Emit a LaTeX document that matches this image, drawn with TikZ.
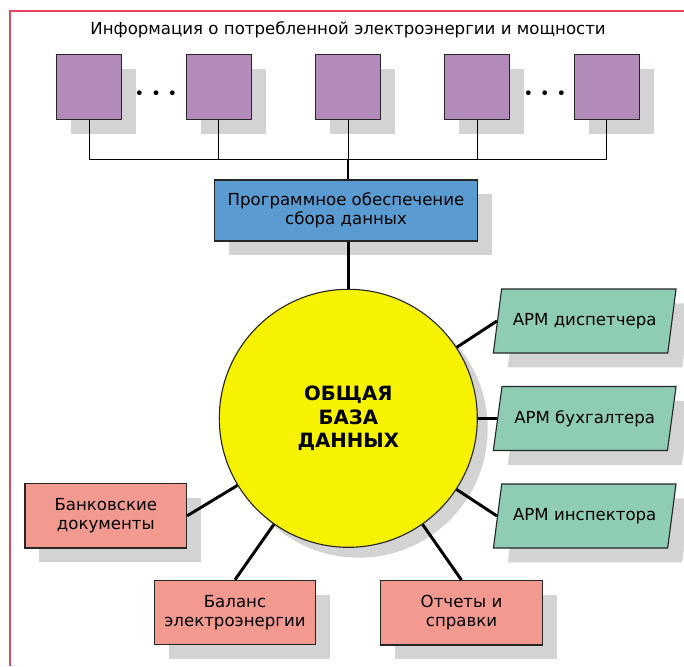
\documentclass[tikz,border=0pt]{standalone}
\usepackage{fontspec}
\setmainfont{DejaVu Sans}
\usetikzlibrary{positioning,shapes.geometric,shadows}
\definecolor{framered}{RGB}{222,72,96}
\definecolor{meterpurple}{RGB}{178,139,186}
\definecolor{softblue}{RGB}{90,156,210}
\definecolor{dbyellow}{RGB}{247,243,0}
\definecolor{armgreen}{RGB}{142,205,180}
\definecolor{docred}{RGB}{243,154,144}
\definecolor{shadowgray}{RGB}{211,211,211}

\begin{document}
\begin{tikzpicture}[x=0.25mm, y=-0.25mm,
  boxshadow/.style={drop shadow={fill=shadowgray, opacity=1, shadow xshift=#1, shadow yshift=-#1}},
  boxshadow/.default=3.6mm,
  txt/.style={font=\fontsize{11.8}{13.2}\selectfont},
  meter/.style={draw=black!85, line width=0.8pt, fill=meterpurple, minimum width=16.25mm, minimum height=16.25mm, inner sep=0pt, boxshadow},
  softbox/.style={draw=black!85, line width=0.8pt, fill=softblue, minimum width=65.85mm, minimum height=15.25mm, align=center, txt, boxshadow},
  armbox/.style={trapezium, trapezium left angle=73, trapezium right angle=107, trapezium stretches=true, draw=black!85, line width=0.8pt, fill=armgreen, minimum width=45.7mm, minimum height=16mm, txt, boxshadow},
  docbox/.style={draw=black!85, line width=0.8pt, fill=docred, minimum width=40.4mm, minimum height=16.1mm, align=center, txt, boxshadow},
  wire/.style={line width=0.7pt},
  link/.style={line width=2.1pt}]
\useasboundingbox (0,0) rectangle (684,666);

% Frame
\draw[framered, line width=1.4pt] (684,11) -- (10,11) -- (10,666);

% Meters
\node[txt] (title) at (348,30) {Информация о потребленной электроэнергии и мощности};
\foreach \i/\x in {1/89.3, 2/218.65, 3/348, 4/477.35, 5/606.7}
  \node[meter] (m\i) at (\x,87) {};
\foreach \x in {139.3,156,172.3,528.3,544.7,561.3}
  \fill (\x,92.7) circle (2.4);

% Bus
\coordinate (bus) at (348,159.3);
\foreach \i in {1,...,5}
  \draw[wire] (m\i.south) -- (m\i.south |- bus);
\draw[wire] (m1.south |- bus) -- (m5.south |- bus);

% Software
\node[softbox] (soft) at (346,210.5) {Программное обеспечение\\сбора данных};
\draw[link] (bus) -- (soft.north -| bus);

% Database
\node[circle, draw=black!85, line width=0.8pt, fill=dbyellow, minimum size=64.5mm, align=center,
  font=\fontsize{14}{17}\selectfont\bfseries, boxshadow=2.6mm] (db) at (348.3,418.3) {ОБЩАЯ\\БАЗА\\ДАННЫХ};
\draw[link] (soft.south -| db) -- (db.north);

% Workstations
\node[armbox] (arm1) at (584.7,321) {АРМ диспетчера};
\node[armbox] (arm2) at (584.7,418.5) {АРМ бухгалтера};
\node[armbox] (arm3) at (584.7,516) {АРМ инспектора};
\foreach \i in {1,2,3}
  \draw[link] (db) -- (arm\i.west);

% Documents
\node[docbox] (bank) at (105.8,515.8) {Банковские\\документы};
\node[docbox] (balance) at (235,612.5) {Баланс\\электроэнергии};
\node[docbox] (reports) at (461.5,612.8) {Отчеты и\\справки};
\draw[link] (db) -- (bank.east);
\draw[link] (db) -- (balance.north);
\draw[link] (db) -- (reports.north);

\end{tikzpicture}
\end{document}
